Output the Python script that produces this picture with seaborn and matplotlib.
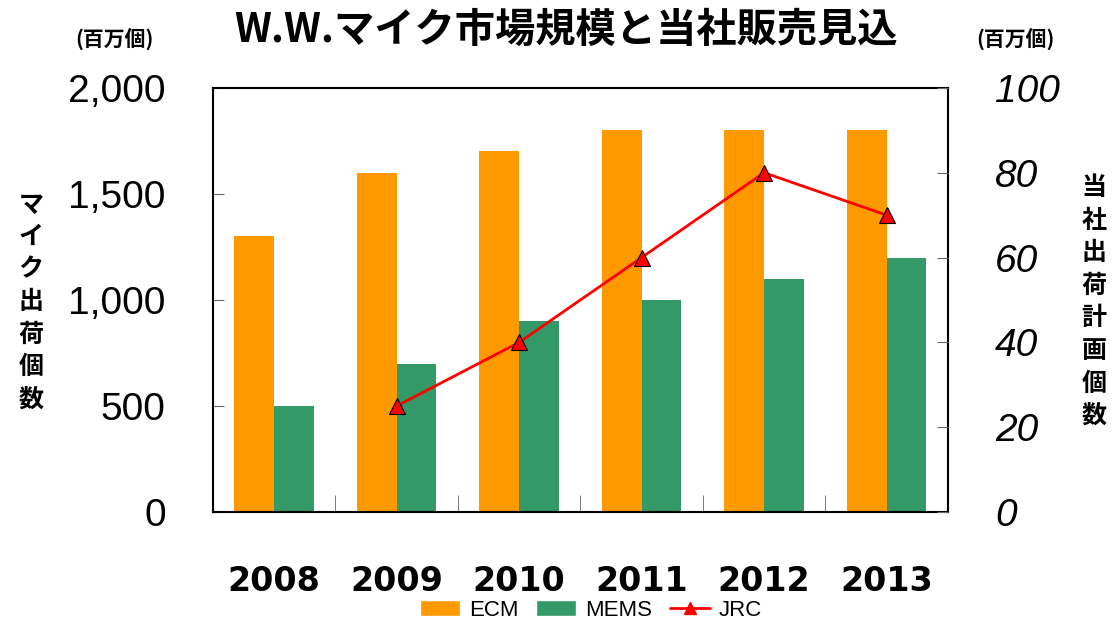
import numpy as np
import pandas as pd
import seaborn as sns
import matplotlib.pyplot as plt
from matplotlib.patches import Patch
from matplotlib.lines import Line2D

# data
years = ["2008", "2009", "2010", "2011", "2012", "2013"]
ecm = [1300, 1600, 1700, 1800, 1800, 1800]
mems = [500, 700, 900, 1000, 1100, 1200]
jrc_years = ["2009", "2010", "2011", "2012", "2013"]
jrc = [25, 40, 60, 80, 70]

left_ticks = [0, 500, 1000, 1500, 2000]
left_ticklabels = ["0", "500", "1,000", "1,500", "2,000"]
right_ticks = [0, 20, 40, 60, 80, 100]

ORANGE = "#FF9900"
GREEN = "#339966"
RED = "#FF0000"
JP = ["Noto Sans CJK JP", "DejaVu Sans"]

sns.set_style("white")
plt.rcParams["font.family"] = ["Liberation Sans", "Noto Sans CJK JP", "DejaVu Sans"]
plt.rcParams["text.color"] = "black"
plt.rcParams["xtick.color"] = "black"
plt.rcParams["ytick.color"] = "black"
plt.rcParams["xtick.labelcolor"] = "black"
plt.rcParams["ytick.labelcolor"] = "black"

df = pd.DataFrame({
    "year": years * 2,
    "value": ecm + mems,
    "type": ["ECM"] * len(years) + ["MEMS"] * len(years),
})

fig = plt.figure(figsize=(11.15, 6.23), dpi=100)
ax = fig.add_axes([0.191, 0.178, 0.659, 0.681])

sns.barplot(data=df, x="year", y="value", hue="type", order=years,
            palette={"ECM": ORANGE, "MEMS": GREEN}, width=0.65,
            saturation=1, ax=ax, legend=False, linewidth=0)

ax.set_xlim(-0.5, len(years) - 0.5)
ax.set_ylim(0, 2000)
ax.set_yticks(left_ticks)
ax.set_yticklabels(left_ticklabels, fontsize=28)
ax.tick_params(axis="y", direction="in", length=8, color="#666666", pad=34)
ax.tick_params(axis="x", length=0, pad=38)
for lbl in ax.get_xticklabels():
    lbl.set_fontfamily("DejaVu Sans")
    lbl.set_fontweight("bold")
    lbl.set_fontsize(24)
ax.set_xticks(np.arange(0.5, len(years) - 0.5), minor=True)
ax.tick_params(axis="x", which="minor", direction="in", length=12,
               color="#666666", bottom=True)
ax.set_xlabel("")
ax.set_ylabel("")
for s in ax.spines.values():
    s.set_color("black")
    s.set_linewidth(1.5)

# JRC line on right axis
ax2 = ax.twinx()
x_jrc = [years.index(y) for y in jrc_years]
sns.lineplot(x=x_jrc, y=jrc, ax=ax2, color=RED, linewidth=2, marker="^",
             markersize=11, markerfacecolor=RED, markeredgecolor="black",
             markeredgewidth=0.8)
ax2.set_ylim(0, 100)
ax2.set_yticks(right_ticks)
ax2.set_yticklabels([str(t) for t in right_ticks], fontsize=28, style="italic")
ax2.tick_params(axis="y", direction="in", length=8, color="#666666", pad=34)
for s in ax2.spines.values():
    s.set_visible(False)

# texts
fig.text(0.508, 0.952, "W.W.マイク市場規模と当社販売見込", ha="center", va="center",
         fontsize=29, fontweight="bold", family=JP)
fig.text(0.103, 0.938, "(百万個)", ha="center", va="center", fontsize=15,
         fontweight="bold", family=JP)
fig.text(0.911, 0.938, "(百万個)", ha="center", va="center", fontsize=15,
         fontweight="bold", family=JP)
fig.text(0.028, 0.515, "\n".join("マイク出荷個数"), ha="center", va="center",
         fontsize=18, fontweight="bold", family=JP, linespacing=1.45)
fig.text(0.981, 0.515, "\n".join("当社出荷計画個数"), ha="center", va="center",
         fontsize=18, fontweight="bold", family=JP, linespacing=1.45)

handles = [
    Patch(facecolor=ORANGE, label="ECM"),
    Patch(facecolor=GREEN, label="MEMS"),
    Line2D([0], [0], color=RED, linewidth=2, marker="^", markersize=9,
           markerfacecolor=RED, markeredgecolor=RED, label="JRC"),
]
fig.legend(handles=handles, loc="center", bbox_to_anchor=(0.53, 0.02),
           ncol=3, frameon=False, fontsize=16, handlelength=1.8,
           handletextpad=0.4, columnspacing=0.8)

plt.savefig("out.png", dpi=100)
